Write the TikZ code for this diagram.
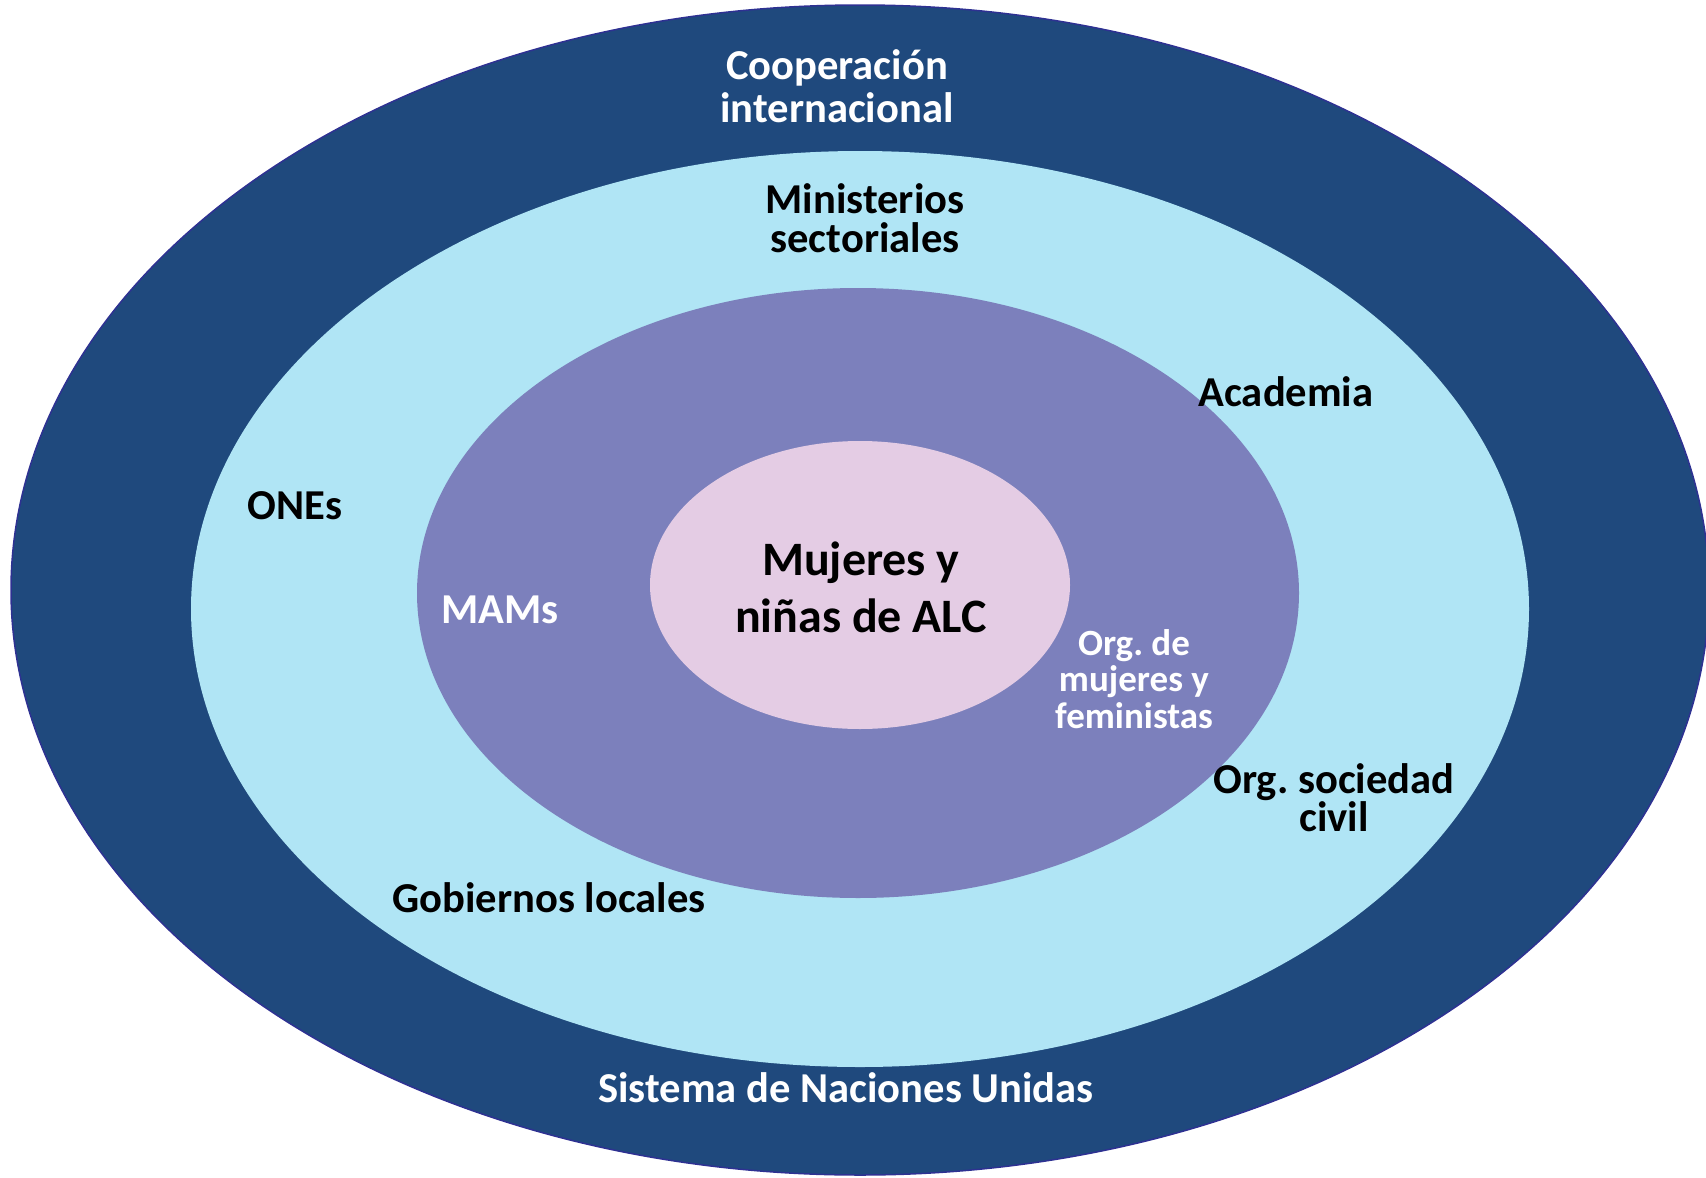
\documentclass[tikz,border=0pt]{standalone}
\usepackage{fontspec}
\setmainfont{Carlito}
\frenchspacing
\definecolor{navy}{RGB}{31,73,125}
\definecolor{navyedge}{RGB}{46,49,146}
\definecolor{skyb}{RGB}{176,229,245}
\definecolor{lavend}{RGB}{124,128,188}
\definecolor{pinkc}{RGB}{228,204,228}
\tikzset{
  lbl/.style={align=center, inner sep=0pt, font=\bfseries\fontsize{42.6}{43}\selectfont},
  lblw/.style={lbl, text=white},
  lblk/.style={lbl, text=black},
}
\begin{document}
\begin{tikzpicture}[x=1pt,y=-1pt]
\useasboundingbox (0,0) rectangle (1706,1178);
\fill[navy, draw=navyedge, line width=1.5pt] (860,590) ellipse [x radius=849pt, y radius=585pt];
\fill[skyb] (860,609) ellipse [x radius=669pt, y radius=458pt];
\fill[lavend] (858,593) ellipse [x radius=441pt, y radius=305pt];
\fill[pinkc] (860,585) ellipse [x radius=210pt, y radius=144pt];
\node[lblw] (coop) at (837,86) {Cooperación\\internacional};
\node[lblk, font=\bfseries\fontsize{42.6}{39}\selectfont] (min) at (865,218) {Ministerios\\sectoriales};
\node[lblk] (acad) at (1286,392) {Academia};
\node[lblk] (ones) at (295,506) {ONEs};
\node[lblw] (mams) at (500,610) {MAMs};
\node[lblk, font=\bfseries\fontsize{48}{57}\selectfont] (muj) at (861,587) {Mujeres y\\niñas de ALC};
\node[lblw, font=\bfseries\fontsize{37}{36.5}\selectfont] (orgm) at (1134,679) {Org. de\\mujeres y\\feministas};
\node[lblk, font=\bfseries\fontsize{42.6}{37}\selectfont] (osc) at (1334,798) {Org. sociedad\\civil};
\node[lblk] (gob) at (549,898) {Gobiernos locales};
\node[lblw] (snu) at (846,1088) {Sistema de Naciones Unidas};
\end{tikzpicture}
\end{document}
